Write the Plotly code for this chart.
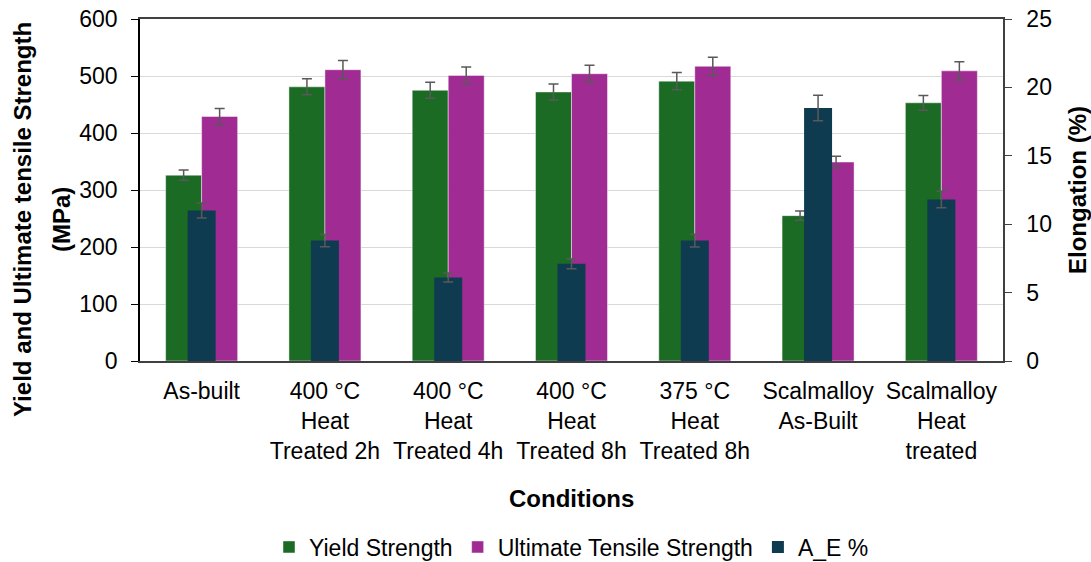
import plotly.graph_objects as go

# Test conditions
conditions = [
    "As-built",
    "400 °C<br>Heat<br>Treated 2h",
    "400 °C<br>Heat<br>Treated 4h",
    "400 °C<br>Heat<br>Treated 8h",
    "375 °C<br>Heat<br>Treated 8h",
    "Scalmalloy<br>As-Built",
    "Scalmalloy<br>Heat<br>treated",
]

# Yield strength (MPa) and standard deviation
yield_strength = [326, 481, 475, 472, 491, 255, 453]
yield_err = [9, 14, 14, 14, 15, 8, 13]

# Ultimate tensile strength (MPa) and standard deviation
uts = [429, 511, 501, 504, 517, 349, 509]
uts_err = [14, 16, 15, 15, 16, 10, 16]

# Elongation at break (%) and standard deviation
elongation = [11.0, 8.8, 6.1, 7.1, 8.8, 18.5, 11.8]
elongation_err = [0.55, 0.45, 0.33, 0.36, 0.46, 0.93, 0.6]

FONT = "Arial, Liberation Sans, sans-serif"
FS = 23          # tick labels and legend
FS_TITLE = 24    # axis titles
GREEN = "#1B6B24"
PURPLE = "#A02B93"
NAVY = "#0E3B50"
ERR_COLOR = "#595959"

x_idx = list(range(len(conditions)))
bw = 0.292
ew = 0.227


def err(vals):
    return dict(type="data", array=vals, visible=True, color=ERR_COLOR,
                thickness=1.5, width=5)


fig = go.Figure()
fig.add_trace(go.Bar(
    x=x_idx, y=yield_strength, name="Yield Strength",
    marker=dict(color=GREEN, line=dict(color="rgba(255,255,255,0.6)", width=0.75)),
    width=bw, offset=-bw, error_y=err(yield_err), yaxis="y",
))
fig.add_trace(go.Bar(
    x=x_idx, y=uts, name="Ultimate Tensile Strength",
    marker=dict(color=PURPLE, line=dict(color="rgba(255,255,255,0.6)", width=0.75)),
    width=bw, offset=0, error_y=err(uts_err), yaxis="y",
))
fig.add_trace(go.Bar(
    x=x_idx, y=elongation, name="A_E %",
    marker=dict(color=NAVY, line=dict(width=0)),
    width=ew, offset=-ew / 2, error_y=err(elongation_err), yaxis="y2",
))

W, H = 1091, 562
L, R, T, B = 140, 88, 19, 201
plot_h = H - T - B


def py(px):
    # convert a pixel row to paper y
    return (H - B - px) / plot_h


def px_x(px):
    return (px - L) / (W - L - R)


fig.update_layout(
    width=W, height=H,
    margin=dict(l=L, r=R, t=T, b=B, pad=0, autoexpand=False),
    paper_bgcolor="white", plot_bgcolor="white",
    barmode="overlay",
    font=dict(family=FONT, size=FS, color="#000000"),
    showlegend=True,
    legend=dict(orientation="h", x=0.5, xanchor="center", y=py(547), yanchor="middle",
                font=dict(size=FS, color="#000000"), itemwidth=30, traceorder="normal",
                bgcolor="rgba(0,0,0,0)"),
    xaxis=dict(
        tickmode="array", tickvals=x_idx, ticktext=conditions,
        range=[-0.5, len(conditions) - 0.5],
        showline=True, linecolor="#404040", linewidth=1.5, mirror=True,
        ticks="", showgrid=False, zeroline=False,
        ticklabelstandoff=9,
        tickfont=dict(size=FS, color="#000000"),
    ),
    yaxis=dict(
        range=[0, 600], dtick=100, tick0=0,
        showline=True, linecolor="#000000", linewidth=1.5,
        ticks="outside", ticklen=7, tickcolor="#000000",
        ticklabelstandoff=9,
        showgrid=True, gridcolor="#D9D9D9", gridwidth=1, zeroline=False,
        tickfont=dict(size=FS, color="#000000"),
    ),
    yaxis2=dict(
        range=[0, 25], dtick=5, tick0=0, overlaying="y", side="right",
        showline=True, linecolor="#404040", linewidth=1.5,
        ticks="outside", ticklen=7, tickcolor="#404040",
        ticklabelstandoff=10,
        showgrid=False, zeroline=False,
        tickfont=dict(size=FS, color="#000000"),
    ),
    annotations=[
        dict(text="<b>Yield and Ultimate tensile Strength</b>", textangle=-90,
             xref="paper", yref="paper", x=px_x(22), y=py(220), showarrow=False,
             xanchor="center", yanchor="middle", font=dict(size=FS_TITLE)),
        dict(text="<b>(MPa)</b>", textangle=-90,
             xref="paper", yref="paper", x=px_x(61), y=py(220), showarrow=False,
             xanchor="center", yanchor="middle", font=dict(size=FS_TITLE)),
        dict(text="<b>Elongation (%)</b>", textangle=-90,
             xref="paper", yref="paper", x=px_x(1077), y=py(190), showarrow=False,
             xanchor="center", yanchor="middle", font=dict(size=FS_TITLE)),
        dict(text="<b>Conditions</b>",
             xref="paper", yref="paper", x=0.5, y=py(498), showarrow=False,
             xanchor="center", yanchor="middle", font=dict(size=FS_TITLE)),
    ],
)

fig.write_html("out.html")
